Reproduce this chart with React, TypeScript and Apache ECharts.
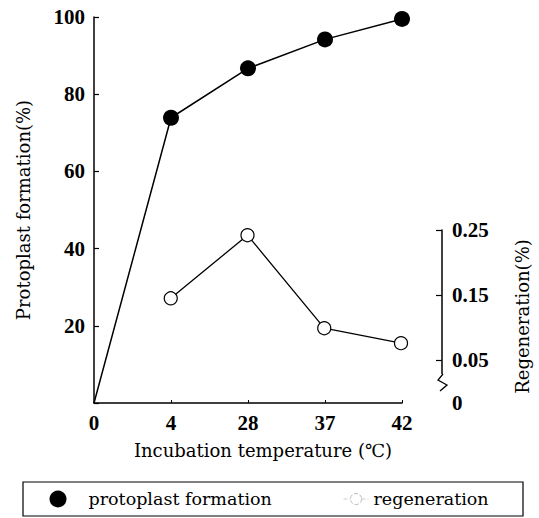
import React, { useEffect, useRef } from "react";
import * as echarts from "echarts";

const categories = ["0", "4", "28", "37", "42"];
const protoplastFormation = [0, 73.9, 86.7, 94.2, 99.5];
const regeneration = [null, 0.145, 0.242, 0.099, 0.076];
const leftTicks = { min: 0, max: 100, interval: 20 };
const rightTickValues = [0.05, 0.15, 0.25];
const rightAxisMin = -0.016;
const rightAxisMax = 0.25;

const BOLD_FONT = "Liberation Serif";
const TEXT_FONT = "DejaVu Serif";

export default function App() {
  const ref = useRef<HTMLDivElement>(null);
  useEffect(() => {
    if (!ref.current) return;
    const chart = echarts.init(ref.current, null, { renderer: "svg" });
    const axisLine = { show: true, lineStyle: { color: "#000", width: 1.5 } };
    const tickLabel = { color: "#000", fontFamily: BOLD_FONT, fontSize: 21, fontWeight: "bold" as const };
    const nameStyle = { color: "#000", fontFamily: TEXT_FONT, fontSize: 18, fontWeight: "normal" as const };
    chart.setOption({
      animation: false,
      backgroundColor: "#fff",
      textStyle: { fontFamily: TEXT_FONT },
      grid: [
        { left: 94, top: 17, width: 308, height: 386 },
        { left: 94, top: 230, width: 308, height: 173 },
      ],
      xAxis: [
        {
          type: "category",
          gridIndex: 0,
          data: categories,
          boundaryGap: false,
          axisLine,
          axisTick: { show: true, inside: true, length: 3, lineStyle: { color: "#000" } },
          axisLabel: { ...tickLabel, margin: 9, showMinLabel: true, showMaxLabel: true, interval: 0 },
          name: "Incubation temperature (℃)",
          nameLocation: "middle",
          nameGap: 38,
          nameTextStyle: { ...nameStyle, padding: [0, 0, 0, 30] },
        },
        {
          type: "category",
          gridIndex: 1,
          data: categories,
          boundaryGap: false,
          show: false,
        },
      ],
      yAxis: [
        {
          type: "value",
          gridIndex: 0,
          min: leftTicks.min,
          max: leftTicks.max,
          interval: leftTicks.interval,
          axisLine,
          splitLine: { show: false },
          axisTick: { show: true, inside: true, length: 5, lineStyle: { color: "#000", width: 1.2 } },
          axisLabel: {
            ...tickLabel,
            margin: 9,
            formatter: (v: number) => (v === 0 ? "" : String(v)),
          },
          name: "Protoplast formation(%)",
          nameLocation: "middle",
          nameGap: 62,
          nameRotate: 90,
          nameTextStyle: nameStyle,
        },
        {
          type: "value",
          gridIndex: 1,
          position: "right",
          offset: 41,
          min: rightAxisMin,
          max: rightAxisMax,
          axisLine,
          splitLine: { show: false },
          axisTick: {
            show: true,
            inside: true,
            length: 6,
            customValues: rightTickValues,
            lineStyle: { color: "#000", width: 1.2 },
          },
          axisLabel: {
            ...tickLabel,
            margin: 10,
            customValues: [rightAxisMin, ...rightTickValues],
            formatter: (v: number) => (v < 0 ? "0" : v.toFixed(2)),
          },
          name: "Regeneration(%)",
          nameLocation: "middle",
          nameGap: 71,
          nameRotate: 90,
          nameTextStyle: nameStyle,
        },
      ],
      legend: [
        {
          data: [{ name: "protoplast formation", icon: "circle" }],
          left: 44.5,
          top: 485,
          itemWidth: 17,
          itemHeight: 17,
          textStyle: { color: "#000", fontFamily: TEXT_FONT, fontSize: 17.5, padding: [0, 0, 0, 17] },
          selectedMode: false,
        },
        {
          data: [
            {
              name: "regeneration",
              itemStyle: { color: "#fff", borderColor: "#bbb", borderWidth: 1, borderType: "dashed" },
              lineStyle: { color: "#ccc", width: 1, type: "dashed" },
            },
          ],
          left: 338,
          top: 485,
          itemWidth: 25,
          itemHeight: 14,
          textStyle: { color: "#000", fontFamily: TEXT_FONT, fontSize: 17.5 },
          selectedMode: false,
        },
      ],
      graphic: [
        {
          type: "rect",
          shape: { x: 23, y: 482, width: 500, height: 34 },
          style: { fill: "none", stroke: "#000", lineWidth: 1.2 },
          z: 0,
        },
        {
          type: "rect",
          shape: { x: 436, y: 374, width: 12, height: 32 },
          style: { fill: "#fff" },
          z: 50,
        },
        {
          type: "polyline",
          shape: { points: [[443, 374], [438, 380], [447, 385], [440, 391]] },
          style: { fill: "none", stroke: "#000", lineWidth: 1.3 },
          z: 51,
        },
      ],
      series: [
        {
          name: "protoplast formation",
          type: "line",
          xAxisIndex: 0,
          yAxisIndex: 0,
          data: protoplastFormation.map((v, i) => (i === 0 ? { value: v, symbol: "none" } : v)),
          symbol: "circle",
          symbolSize: 16,
          showSymbol: true,
          lineStyle: { color: "#000", width: 1.5 },
          itemStyle: { color: "#000" },
          z: 3,
        },
        {
          name: "regeneration",
          type: "line",
          xAxisIndex: 1,
          yAxisIndex: 1,
          data: regeneration,
          symbol: "circle",
          symbolSize: 13,
          showSymbol: true,
          lineStyle: { color: "#000", width: 1.3 },
          itemStyle: { color: "#fff", borderColor: "#000", borderWidth: 1.2 },
          z: 3,
        },
      ],
    });
    return () => chart.dispose();
  }, []);
  return (
    <div
      ref={ref}
      style={{ position: "fixed", left: 0, top: 0, width: 539, height: 518, background: "#fff" }}
    />
  );
}
